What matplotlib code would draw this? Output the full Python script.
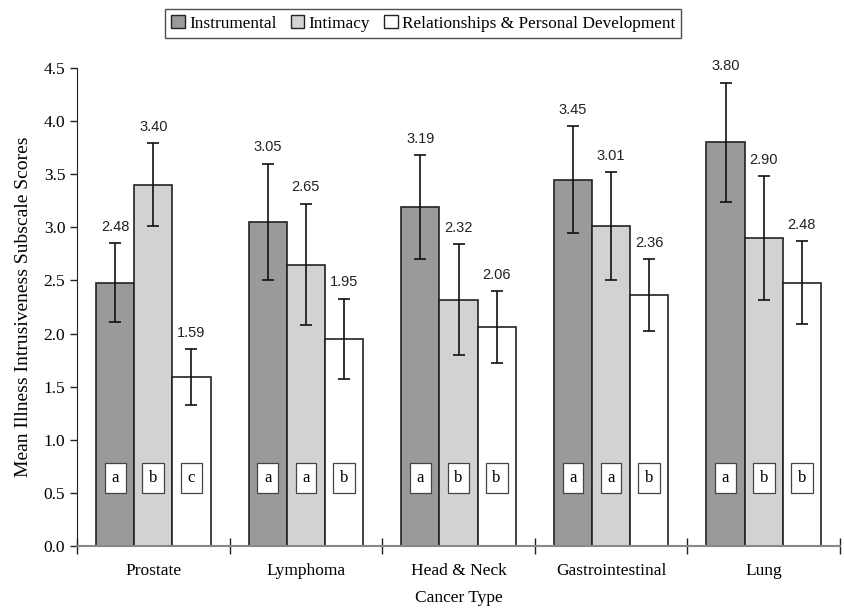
import matplotlib.pyplot as plt
import numpy as np
from matplotlib.patches import Patch

#%% Data

cancers = ['Prostate', 'Lymphoma', 'Head & Neck', 'Gastrointestinal', 'Lung']
series = ['Instrumental', 'Intimacy', 'Relationships & Personal Development']

instrumental = [2.48, 3.05, 3.19, 3.45, 3.80]
intimacy = [3.40, 2.65, 2.32, 3.01, 2.90]
relationships = [1.59, 1.95, 2.06, 2.36, 2.48]

err_instrumental = [0.37, 0.55, 0.49, 0.50, 0.56]
err_intimacy = [0.39, 0.57, 0.52, 0.51, 0.58]
err_relationships = [0.26, 0.38, 0.34, 0.34, 0.39]

letters_instrumental = ['a', 'a', 'a', 'a', 'a']
letters_intimacy = ['b', 'a', 'b', 'a', 'b']
letters_relationships = ['c', 'b', 'b', 'b', 'b']

#%% Plot

serif = 'Liberation Serif'
sans = 'Liberation Sans'
colors = ['#9a9a9a', '#d2d2d2', '#ffffff']

fig = plt.figure(figsize=(8.45, 6.11), dpi=100)
ax = fig.add_axes([77/845, 1 - 546/611, (840-77)/845, (546-68)/611])

x = np.arange(len(cancers))
w = 0.25
means = [instrumental, intimacy, relationships]
errs = [err_instrumental, err_intimacy, err_relationships]
letters = [letters_instrumental, letters_intimacy, letters_relationships]

for i in range(3):
    pos = x + (i - 1) * w
    ax.bar(pos, means[i], w, color=colors[i], edgecolor='#222222', linewidth=1.2, zorder=2)
    ax.errorbar(pos, means[i], yerr=errs[i], fmt='none', ecolor='#111111',
                elinewidth=1.2, capsize=4, capthick=1.2, zorder=3)
    for p, m, e, l in zip(pos, means[i], errs[i], letters[i]):
        ax.text(p, m + e + 0.09, '%.2f' % m, ha='center', va='bottom',
                fontsize=10.5, family=sans, color='#222222')
        ax.text(p, 0.64, l, ha='center', va='center', fontsize=12, family=serif,
                bbox=dict(boxstyle='square,pad=0.4', fc='white', ec='#444444', lw=0.9),
                zorder=4)

ax.set_xlim(-0.5, len(cancers) - 0.5)
ax.set_ylim(0, 4.5)
ax.set_yticks(np.arange(0, 4.51, 0.5))
ax.set_yticklabels(['%.1f' % v for v in np.arange(0, 4.51, 0.5)], family=serif, fontsize=12.5)
ax.set_xticks(np.arange(len(cancers) + 1) - 0.5, minor=False)
ax.set_xticklabels([])
ax.tick_params(axis='x', direction='inout', length=12, width=1, color='#222222')
ax.set_xticks(x, minor=True)
ax.set_xticklabels(cancers, minor=True, family=serif, fontsize=12.5)
ax.tick_params(axis='x', which='minor', length=0, pad=12)
ax.tick_params(axis='y', direction='out', length=5, width=1, color='#222222')

ax.spines['top'].set_visible(False)
ax.spines['right'].set_visible(False)
ax.spines['bottom'].set_color('#888888')
ax.spines['bottom'].set_linewidth(1.5)
ax.spines['left'].set_color('#222222')

ax.set_xlabel('Cancer Type', family=serif, fontsize=12.5, labelpad=8)
ax.set_ylabel('Mean Illness Intrusiveness Subscale Scores', family=serif, fontsize=14, labelpad=8)

handles = [Patch(facecolor=c, edgecolor='#222222', linewidth=1) for c in colors]
leg = fig.legend(handles, series, loc='upper center', bbox_to_anchor=(0.501, 0.999),
                 ncol=3, frameon=True, fancybox=False, edgecolor='#222222',
                 prop={'family': serif, 'size': 12.4}, handlelength=0.8, handleheight=0.8,
                 handletextpad=0.25, columnspacing=0.8, borderpad=0.35, borderaxespad=0.5)
leg.get_frame().set_linewidth(1.0)

fig.savefig('out.png', dpi=100)
